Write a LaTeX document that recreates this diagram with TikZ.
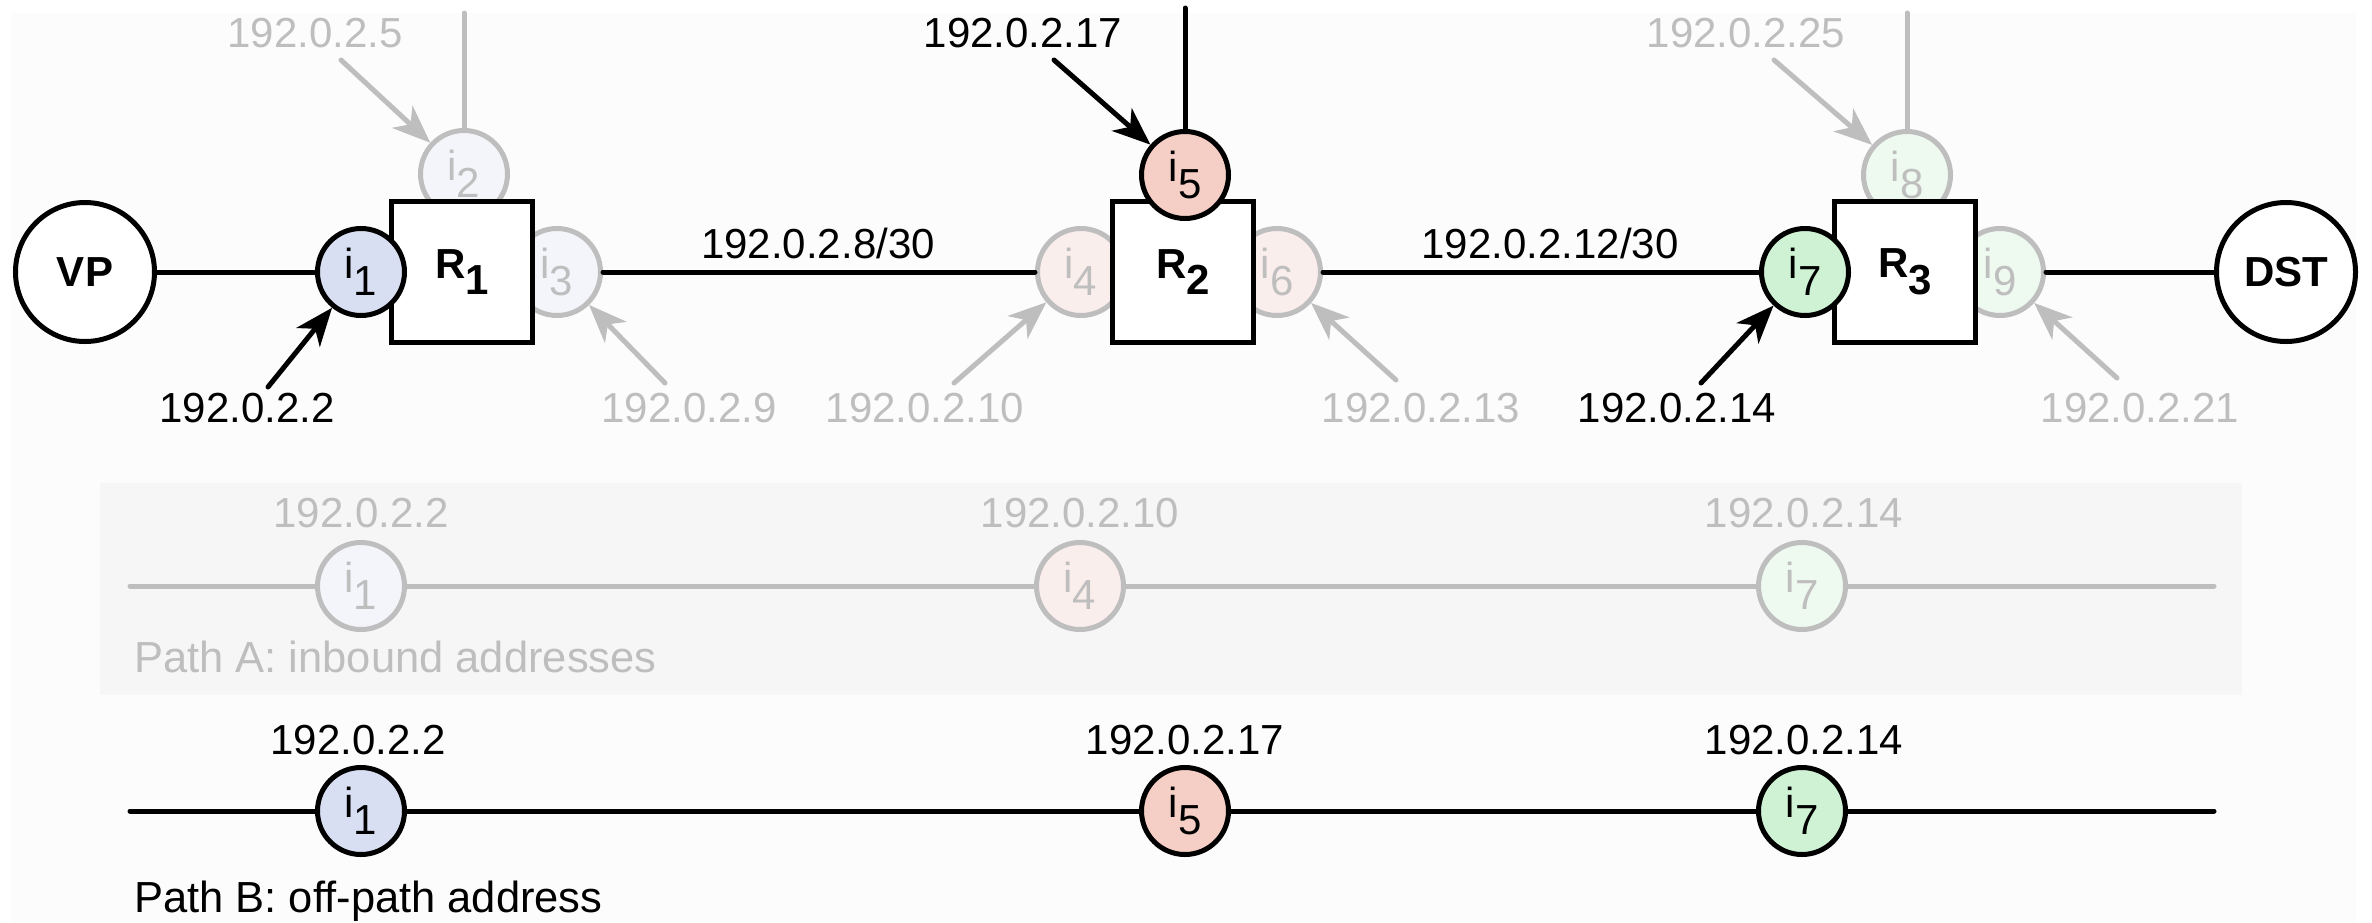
\documentclass[tikz,border=0pt]{standalone}
\usepackage{fontspec}
\setmainfont{Liberation Sans}
\usetikzlibrary{arrows.meta}

\definecolor{bgc}{RGB}{252,252,252}
\definecolor{panel}{RGB}{246,246,246}
\definecolor{fade}{RGB}{190,190,190}
\definecolor{blueF}{RGB}{217,223,242}
\definecolor{redF}{RGB}{245,207,198}
\definecolor{greenF}{RGB}{207,242,212}
\definecolor{blueL}{RGB}{243,245,250}
\definecolor{redL}{RGB}{250,238,236}
\definecolor{greenL}{RGB}{238,249,240}

% interface and router labels: subscript at full size, lowered
\newcommand{\ifc}[1]{i\raisebox{-0.4em}{#1}}
\newcommand{\rtr}[1]{\textbf{R\raisebox{-0.4em}{#1}}}

\begin{document}
\begin{tikzpicture}[x=1pt,y=-1pt,
  font=\fontsize{42}{50}\selectfont,
  ifcbase/.style={circle, line width=5pt, minimum size=87pt, inner sep=0pt},
  ifcon/.style={ifcbase, draw=black, fill=#1},
  ifcoff/.style={ifcbase, draw=fade, fill=#1, text=fade},
  router/.style={rectangle, draw, line width=5pt, fill=white, minimum size=141pt, inner sep=0pt},
  host/.style={circle, draw, line width=5pt, minimum size=139pt, fill=white, inner sep=0pt, font=\fontsize{42}{50}\selectfont\bfseries},
  wire/.style={line width=5pt, line cap=round},
  fwire/.style={wire, draw=fade},
  arr/.style={line width=5pt, line cap=round, -{Stealth[length=38pt,width=30pt,inset=11pt]}},
  farr/.style={arr, draw=fade},
  lab/.style={text height=30pt, text depth=0pt, inner sep=0pt},
  flab/.style={lab, text=fade},
  pathtitle/.style={anchor=base west, inner sep=0pt, font=\fontsize{43.5}{50}\selectfont}]

\useasboundingbox (0,0) rectangle (2372,922);
\fill[bgc] (11,13) rectangle (2356,922);
\fill[panel] (100,483) rectangle (2242,695);

% ---- topology ----
\node[host] (vp) at (85,272) {VP};
\node[host] (dst) at (2286,272) {DST};

\node[ifcoff=blueL] (i2) at (464,174) {\ifc{2}};
\node[ifcoff=blueL] (i3) at (557,272) {\ifc{3}};
\node[router] (r1) at (462,272) {\rtr{1}};
\node[ifcon=blueF] (i1) at (361,272) {\ifc{1}};

\node[ifcoff=redL] (i4) at (1081,272) {\ifc{4}};
\node[ifcoff=redL] (i6) at (1277,272) {\ifc{6}};
\node[router] (r2) at (1183,272) {\rtr{2}};
\node[ifcon=redF] (i5) at (1185,175) {\ifc{5}};

\node[ifcoff=greenL] (i8) at (1907,175) {\ifc{8}};
\node[ifcoff=greenL] (i9) at (2000,272) {\ifc{9}};
\node[router] (r3) at (1905,272) {\rtr{3}};
\node[ifcon=greenF] (i7) at (1805,272) {\ifc{7}};

\coordinate (u2) at (464,13);
\coordinate (u5) at (1185,8);
\coordinate (u8) at (1907,13);

\draw[wire] (vp) -- (i1);
\draw[wire] (i3) -- (i4);
\draw[wire] (i6) -- (i7);
\draw[wire] (i9) -- (dst);
\draw[fwire] (i2) -- (u2);
\draw[wire] (i5) -- (u5);
\draw[fwire] (i8) -- (u8);

\node[lab] at (818,243) {192.0.2.8/30};
\node[lab] at (1550,243) {192.0.2.12/30};

% address labels with pointers
\node[flab] (l2) at (315,32) {192.0.2.5};
\node[lab]  (l5) at (1023,32) {192.0.2.17};
\node[flab] (l8) at (1746,32) {192.0.2.25};
\node[lab]  (l1) at (247,407) {192.0.2.2};
\node[flab] (l3) at (689,407) {192.0.2.9};
\node[flab] (l4) at (925,407) {192.0.2.10};
\node[flab] (l6) at (1421,407) {192.0.2.13};
\node[lab]  (l7) at (1677,407) {192.0.2.14};
\node[flab] (l9) at (2140,407) {192.0.2.21};

\coordinate (s1) at (268,387);
\coordinate (s2) at (341,60);
\coordinate (s3) at (665,383);
\coordinate (s4) at (954,383);
\coordinate (s5) at (1054,60);
\coordinate (s6) at (1396,380);
\coordinate (s7) at (1701,383);
\coordinate (s8) at (1774,60);
\coordinate (s9) at (2117,378);

\draw[arr]  (s1) -- (i1);
\draw[farr] (s2) -- (i2);
\draw[farr] (s3) -- (i3);
\draw[farr] (s4) -- (i4);
\draw[arr]  (s5) -- (i5);
\draw[farr] (s6) -- (i6);
\draw[arr]  (s7) -- (i7);
\draw[farr] (s8) -- (i8);
\draw[farr] (s9) -- (i9);

% ---- Path A ----
\coordinate (pas) at (130,586);
\coordinate (pae) at (2214,586);
\node[ifcoff=blueL]  (pa1) at (361,586) {\ifc{1}};
\node[ifcoff=redL]   (pa4) at (1080,586) {\ifc{4}};
\node[ifcoff=greenL] (pa7) at (1802,586) {\ifc{7}};
\draw[fwire] (pas) -- (pa1) -- (pa4) -- (pa7) -- (pae);
\node[flab] at (361,512) {192.0.2.2};
\node[flab] at (1080,512) {192.0.2.10};
\node[flab] at (1804,512) {192.0.2.14};
\node[pathtitle, text=fade] (ta) at (134,672) {Path A: inbound addresses};

% ---- Path B ----
\coordinate (pbs) at (130,811);
\coordinate (pbe) at (2214,811);
\node[ifcon=blueF]  (pb1) at (361,811) {\ifc{1}};
\node[ifcon=redF]   (pb5) at (1185,811) {\ifc{5}};
\node[ifcon=greenF] (pb7) at (1802,811) {\ifc{7}};
\draw[wire] (pbs) -- (pb1) -- (pb5) -- (pb7) -- (pbe);
\node[lab] at (358,739) {192.0.2.2};
\node[lab] at (1185,739) {192.0.2.17};
\node[lab] at (1804,739) {192.0.2.14};
\node[pathtitle] (tb) at (134,912) {Path B: off-path address};

\end{tikzpicture}
\end{document}
